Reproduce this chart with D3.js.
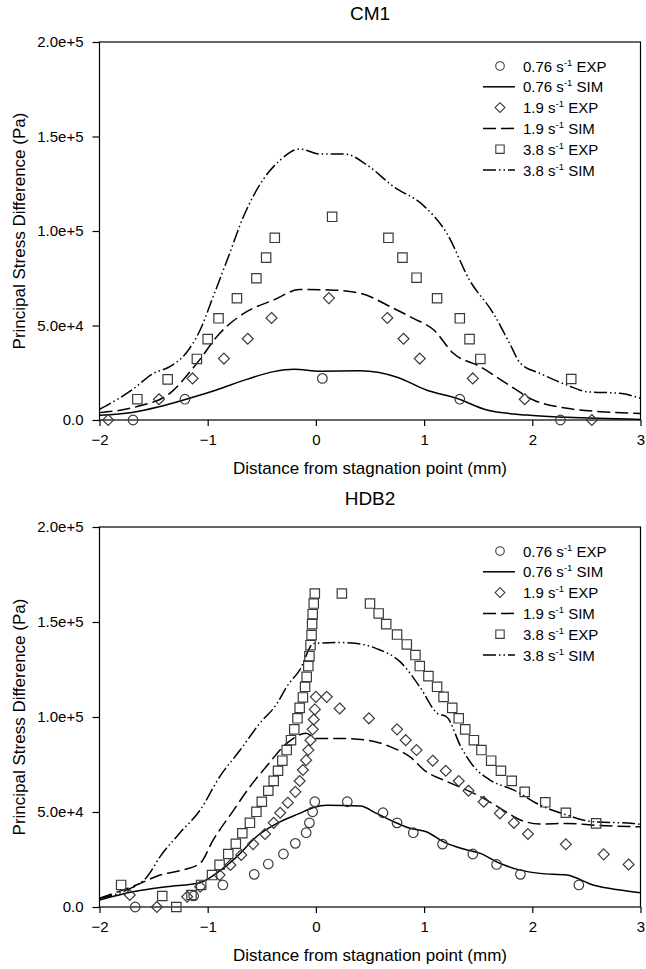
<!DOCTYPE html>
<html>
<head>
<meta charset="utf-8">
<script src="https://cdn.jsdelivr.net/npm/d3@7"></script>
<style>
  body { margin: 0; background: #fff; }
  svg { display: block; font-family: "Liberation Sans", Arial, sans-serif; }
</style>
</head>
<body>
<div id="chart"></div>
<script>
// x ticks and y ticks shared by both panels
const xTicks = [-2, -1, 0, 1, 2, 3];
const yTicks = [0, 50000, 100000, 150000, 200000];
const yTickLabels = ["0.0", "5.0e+4", "1.0e+5", "1.5e+5", "2.0e+5"];

const rates = ["0.76", "1.9", "3.8"];

// ---- CM1 ----
const cm1Exp076 = [[-1.69,0],[-1.21,11000],[0.06,22000],[1.33,11000],[2.26,0]];
const cm1Exp19 = [[-1.92,0],[-1.45,11000],[-1.14,22000],[-0.85,32500],[-0.63,43000],[-0.41,54000],[0.12,64500],
  [0.66,54000],[0.81,43000],[0.96,32500],[1.45,22000],[1.93,11000],[2.55,0]];
const cm1Exp38 = [[-1.65,11000],[-1.37,21500],[-1.10,32300],[-1.0,42800],[-0.90,53800],[-0.73,64400],[-0.55,75000],
  [-0.46,85900],[-0.38,96400],[0.15,107500],[0.67,96400],[0.80,85900],[0.93,75300],[1.12,64400],[1.33,53800],
  [1.42,42800],[1.52,32300],[2.36,21700]];
const cm1Sim076 = [[-2,2500],[-1.7,4000],[-1.45,7000],[-1.2,11000],[-0.92,15900],[-0.64,21500],[-0.39,25600],
  [-0.2,26800],[0.04,25800],[0.41,26000],[0.75,22600],[1.02,15900],[1.3,11500],[1.58,5300],[1.95,2600],
  [2.32,1400],[3,300]];
const cm1Sim19 = [[-2,3900],[-1.66,7000],[-1.35,14100],[-1.1,30000],[-0.89,45800],[-0.64,57300],[-0.39,63500],
  [-0.15,69000],[0.13,68800],[0.41,67000],[0.72,59000],[0.9,53800],[1.09,47600],[1.27,35300],[1.52,28200],
  [1.76,19400],[2.01,10600],[2.32,6200],[2.63,4400],[3,3500]];
const cm1Sim38 = [[-2,5600],[-1.7,15900],[-1.5,24700],[-1.35,28200],[-1.19,36100],[-1.07,47600],[-0.95,65200],
  [-0.82,84600],[-0.67,107500],[-0.49,127000],[-0.33,137500],[-0.15,143400],[0.04,140700],[0.27,140700],
  [0.47,135000],[0.72,123400],[0.99,113700],[1.21,98800],[1.42,74000],[1.64,56400],[1.79,40600],[1.89,30000],
  [2.07,24700],[2.32,18500],[2.5,15000],[2.81,14100],[3,11500]];

// ---- HDB2 ----
const hdbExp076 = [[-1.67,0],[-1.13,5800],[-0.86,11600],[-0.57,17200],[-0.44,22600],[-0.30,27900],[-0.19,33500],
  [-0.09,39100],[-0.06,44300],[-0.03,50100],[-0.01,55400],[0.29,55400],[0.62,49600],[0.75,44300],[0.90,39100],
  [1.17,33100],[1.45,27900],[1.67,22400],[1.89,17200],[2.43,11600]];
const hdbExp19 = [[-1.72,6300],[-1.47,0],[-1.19,5400],[-1.07,10700],[-0.89,16800],[-0.79,22100],[-0.69,27400],
  [-0.58,33100],[-0.47,38400],[-0.39,44300],[-0.33,49600],[-0.26,54900],[-0.19,60600],[-0.15,66300],
  [-0.12,72100],[-0.09,77300],[-0.07,82600],[-0.05,87800],[-0.03,93500],[-0.02,98700],[-0.01,104000],
  [0.0,110600],[0.10,110600],[0.22,104500],[0.49,99300],[0.75,93500],[0.83,87800],[0.93,82600],[1.08,77000],
  [1.20,71700],[1.32,66300],[1.41,61200],[1.55,55400],[1.70,49300],[1.83,44300],[1.96,38400],[2.31,33000],
  [2.66,27700],[2.89,22400]];
const hdbExp38 = [[-1.80,11600],[-1.42,5800],[-1.29,0],[-1.15,6300],[-1.06,11600],[-0.96,16800],[-0.89,22200],
  [-0.81,27900],[-0.74,33300],[-0.68,38800],[-0.61,44300],[-0.55,50100],[-0.50,55400],[-0.44,61200],
  [-0.39,66400],[-0.35,71700],[-0.31,77000],[-0.27,82600],[-0.23,87800],[-0.20,93500],[-0.17,99300],
  [-0.15,104800],[-0.12,110300],[-0.10,115900],[-0.085,121100],[-0.07,126800],[-0.06,132000],[-0.05,137800],
  [-0.04,143100],[-0.035,148900],[-0.03,154100],[-0.02,159700],[-0.01,165000],[0.24,165000],[0.50,159700],
  [0.58,154500],[0.65,148900],[0.75,143400],[0.84,138200],[0.92,132600],[0.96,126800],[1.04,121500],
  [1.12,115900],[1.18,110600],[1.26,104800],[1.32,99300],[1.38,93500],[1.46,87800],[1.53,82600],[1.62,77000],
  [1.71,71700],[1.81,66400],[1.93,60600],[2.12,55100],[2.31,49600],[2.59,44000]];
const hdbSim076 = [[-2,3700],[-1.69,8000],[-1.38,10700],[-1.07,12800],[-0.92,17700],[-0.73,26500],[-0.55,37000],
  [-0.36,44000],[-0.15,49300],[-0.02,52400],[0.1,53500],[0.41,53100],[0.56,49300],[0.72,44900],[0.87,41400],
  [1.02,39600],[1.18,34300],[1.34,30900],[1.52,28200],[1.7,23000],[1.89,19400],[2.07,17700],[2.32,16800],
  [2.56,11600],[2.81,8900],[3,7500]];
const hdbSim19 = [[-2,4600],[-1.66,11600],[-1.44,16800],[-1.23,19500],[-1.07,23000],[-0.95,35200],[-0.76,51000],
  [-0.61,63300],[-0.46,73800],[-0.27,86100],[-0.09,91400],[0.0,88700],[0.22,88700],[0.47,87800],[0.69,84300],
  [0.87,79000],[1.02,71200],[1.18,66800],[1.36,62400],[1.55,57200],[1.73,51000],[1.89,45800],[2.07,43700],
  [2.32,44000],[2.56,43100],[3,42200]];
const hdbSim38 = [[-2,4600],[-1.75,8900],[-1.56,15900],[-1.44,26500],[-1.26,38800],[-1.07,51000],[-0.89,68500],
  [-0.7,82600],[-0.52,96600],[-0.36,107000],[-0.27,115900],[-0.15,124700],[-0.02,138700],[0.19,139200],
  [0.38,138700],[0.56,136000],[0.78,129000],[0.96,115900],[1.12,102000],[1.21,100000],[1.34,84300],
  [1.46,73800],[1.61,66800],[1.83,61500],[2.07,53700],[2.32,48400],[2.56,44900],[2.93,44000],[3,43500]];

const panels = [
  { title: "CM1", top: 42, bottom: 420, exp: [cm1Exp076, cm1Exp19, cm1Exp38], sim: [cm1Sim076, cm1Sim19, cm1Sim38] },
  { title: "HDB2", top: 527, bottom: 907, exp: [hdbExp076, hdbExp19, hdbExp38], sim: [hdbSim076, hdbSim19, hdbSim38] }
];

const W = 646, H = 969;
const left = 99.5, right = 640.5;
const dashes = [null, "13,5", "13,3,1.5,3,1.5,3"];
const shapes = [d3.symbolCircle, d3.symbolDiamond2, d3.symbolSquare2];
const sizes = [72, 76, 112];
const markStroke = "#3a3a3a";

const svg = d3.select("#chart").append("svg")
  .attr("width", W).attr("height", H);

panels.forEach(p => drawPanel(p));

function drawPanel(p) {
  const x = d3.scaleLinear().domain([-2, 3]).range([left, right]);
  const y = d3.scaleLinear().domain([0, 200000]).range([p.bottom, p.top]);
  const g = svg.append("g");

  // frame
  g.append("rect")
    .attr("x", left).attr("y", p.top)
    .attr("width", right - left).attr("height", p.bottom - p.top)
    .attr("fill", "none").attr("stroke", "#000").attr("stroke-width", 1.2);

  const xAxis = g.append("g")
    .attr("transform", `translate(0,${p.bottom})`)
    .call(d3.axisBottom(x).tickValues(xTicks).tickSize(6).tickPadding(8).tickFormat(d3.format("d")));
  const yAxis = g.append("g")
    .attr("transform", `translate(${left},0)`)
    .call(d3.axisLeft(y).tickValues(yTicks).tickSize(7).tickPadding(9)
      .tickFormat((d, i) => yTickLabels[i]));
  [xAxis, yAxis].forEach(a => {
    a.select(".domain").remove();
    a.selectAll("line").attr("stroke", "#000").attr("stroke-width", 1.2);
    a.selectAll("text").attr("fill", "#000").style("font-size", "15px")
      .style("font-family", "'Liberation Sans', Arial, sans-serif");
  });

  // titles
  g.append("text")
    .attr("x", (left + right) / 2).attr("y", p.top - 22)
    .attr("text-anchor", "middle").style("font-size", "19px").text(p.title);
  g.append("text")
    .attr("x", (left + right) / 2).attr("y", p.bottom + 54)
    .attr("text-anchor", "middle").style("font-size", "17px")
    .text("Distance from stagnation point (mm)");
  g.append("text")
    .attr("transform", `translate(25,${(p.top + p.bottom) / 2}) rotate(-90)`)
    .attr("text-anchor", "middle").style("font-size", "17px")
    .text("Principal Stress Difference (Pa)");

  const line = d3.line()
    .x(d => x(d[0])).y(d => y(d[1]))
    .curve(d3.curveMonotoneX);

  const plot = g.append("g");
  p.sim.forEach((s, i) => {
    plot.append("path")
      .datum(s)
      .attr("d", line)
      .attr("fill", "none")
      .attr("stroke", "#000")
      .attr("stroke-width", 1.5)
      .attr("stroke-dasharray", dashes[i]);
  });

  p.exp.forEach((s, i) => {
    plot.append("g").selectAll("path")
      .data(s)
      .join("path")
      .attr("transform", d => `translate(${x(d[0])},${y(d[1])})`)
      .attr("d", d3.symbol().type(shapes[i]).size(sizes[i]))
      .attr("fill", "none")
      .attr("stroke", markStroke)
      .attr("stroke-width", 1.2);
  });

  // legend
  const lg = g.append("g");
  const rowH = 20.8;
  rates.forEach((r, i) => {
    ["EXP", "SIM"].forEach((kind, k) => {
      const cy = p.top + 24 + (i * 2 + k) * rowH;
      if (kind === "EXP") {
        lg.append("path")
          .attr("transform", `translate(500,${cy})`)
          .attr("d", d3.symbol().type(shapes[i]).size(sizes[i] * 0.8))
          .attr("fill", "none").attr("stroke", markStroke).attr("stroke-width", 1.1);
      } else {
        lg.append("line")
          .attr("x1", 483).attr("x2", 515).attr("y1", cy).attr("y2", cy)
          .attr("stroke", "#000").attr("stroke-width", 1.5)
          .attr("stroke-dasharray", dashes[i]);
      }
      const t = lg.append("text")
        .attr("x", 523).attr("y", cy + 5.5)
        .style("font-size", "15px");
      t.append("tspan").text(r + " s");
      t.append("tspan").attr("dy", -6).style("font-size", "9.5px").text("-1");
      t.append("tspan").attr("dy", 6).text(" " + kind);
    });
  });
}
</script>
</body>
</html>
